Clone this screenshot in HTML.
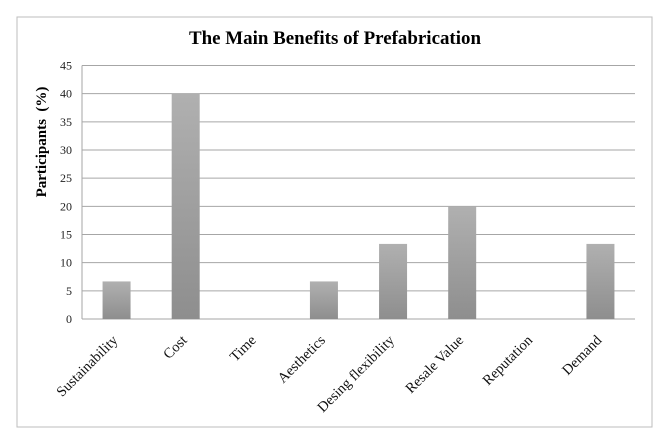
<!DOCTYPE html>
<html><head><meta charset="utf-8"><style>
html,body{margin:0;padding:0;background:#fff;}
svg{display:block;font-family:"Liberation Serif",serif;}
</style></head><body>
<svg id="chart" width="665" height="439">
<defs>
<linearGradient id="barGrad" x1="0" y1="0" x2="0" y2="1">
<stop offset="0" stop-color="#b0b0b0"/><stop offset="1" stop-color="#8e8e8e"/>
</linearGradient>
</defs>
<rect x="17" y="17" width="635" height="410" fill="#fff" stroke="#bdbdbd"/>
<text x="335" y="44" text-anchor="middle" font-size="19" font-weight="bold" textLength="292" lengthAdjust="spacingAndGlyphs">The Main Benefits of Prefabrication</text>
<text transform="translate(46,142) rotate(-90)" text-anchor="middle" font-size="15" font-weight="bold" xml:space="preserve">Participants  (%)</text>
<g id="grid"></g><g id="bars"></g><g id="labels"></g>
</svg>
<script>
const categories=["Sustainability","Cost","Time","Aesthetics","Desing flexibility","Resale Value","Reputation","Demand"];
const values=[6.67,40,0,6.67,13.33,20,0,13.33];
const yTicks=[0,5,10,15,20,25,30,35,40,45];
const L=82,R=635,T=65.5,B=319,yMax=45;
const NS="http://www.w3.org/2000/svg";
const y=v=>B-(v/yMax)*(B-T);
const bw=(R-L)/categories.length;
const x=i=>L+bw*(i+0.5);
const grid=document.getElementById('grid'),bars=document.getElementById('bars'),labels=document.getElementById('labels');
function mk(t,a){const e=document.createElementNS(NS,t);for(const k in a)e.setAttribute(k,a[k]);return e;}
yTicks.forEach(t=>{
 const l=mk('line',{x1:L,x2:R,y1:y(t),y2:y(t),stroke:'#a6a6a6','stroke-width':1});
 
 
 grid.appendChild(l);
 const tx=mk('text',{x:L-10,y:y(t)+4,'text-anchor':'end','font-size':12,fill:'#222'});
 tx.textContent=t;
 
 
 grid.appendChild(tx);
});
const ax=mk('line',{x1:L,x2:L,y1:T,y2:B,stroke:'#a6a6a6'});


grid.appendChild(ax);
categories.forEach((c,i)=>{
 if(values[i]>0){
  const r=mk('rect',{x:x(i)-14,y:y(values[i]),width:28,height:B-y(values[i]),fill:'url(#barGrad)'});
  
  
  bars.appendChild(r);
 }
 const t=mk('text',{transform:`translate(${x(i)+2},${B+22}) rotate(-45)`,'text-anchor':'end','font-size':14.5,fill:'#111'});
 t.textContent=c;
 
 
 labels.appendChild(t);
});
</script>
</body></html>
